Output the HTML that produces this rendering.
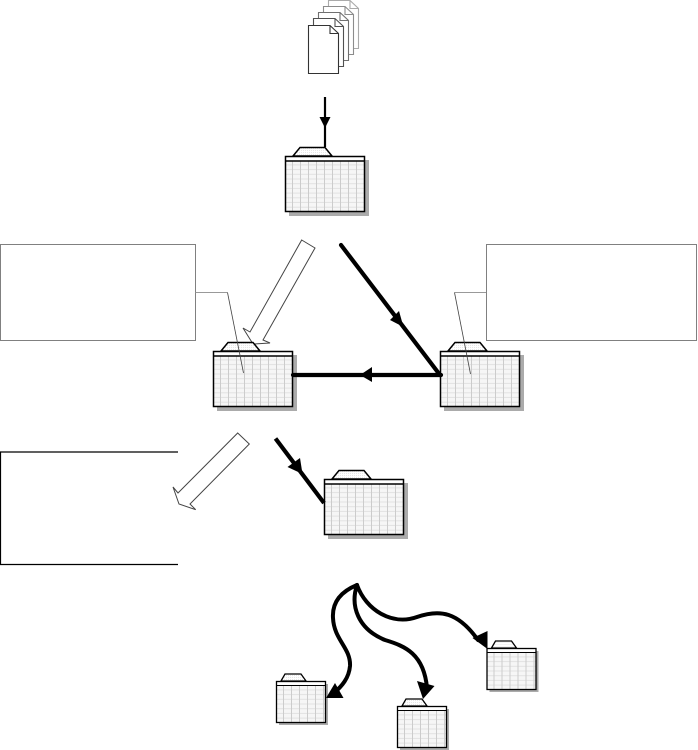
<!DOCTYPE html>
<html>
<head>
<meta charset="utf-8">
<title>Diagram</title>
<style>
html,body{margin:0;padding:0;background:#fff}
svg{display:block}
</style>
</head>
<body>
<svg width="698" height="750" viewBox="0 0 698 750" xmlns="http://www.w3.org/2000/svg">
<defs>
  <pattern id="grid" width="8" height="4.700" patternUnits="userSpaceOnUse">
    <rect width="8" height="4.700" fill="#f6f6f6"/>
    <rect x="0" y="3.700" width="8" height="1" fill="#e2e2e2"/>
    <rect x="7" y="0" width="1" height="4.700" fill="#cccccc"/>
  </pattern>
  <pattern id="dots" width="2" height="2" patternUnits="userSpaceOnUse">
    <rect width="2" height="2" fill="#fff"/>
    <rect width="1" height="1" fill="#e8e8e8"/>
  </pattern>
  <g id="big">
    <rect x="4" y="4" width="80" height="56" fill="#ababab"/>
    <path d="M8 0 L15 -8.500 L40 -8.500 L47 0 Z" fill="url(#dots)" stroke="#000" stroke-width="1.500"/>
    <rect x="0.500" y="0.500" width="79" height="55" fill="url(#grid)"/>
    <rect x="0.500" y="0.500" width="79" height="4.500" fill="#fff"/>
    <rect x="0.500" y="0.500" width="79" height="55" fill="none" stroke="#000" stroke-width="1.500"/>
    <line x1="0.500" y1="5" x2="79.500" y2="5" stroke="#000" stroke-width="1.400"/>
  </g>
  <g id="small">
    <rect x="3" y="3" width="49" height="41" fill="#ababab"/>
    <path d="M5 0 L9 -7 L25 -7 L30 0 Z" fill="url(#dots)" stroke="#000" stroke-width="1.300"/>
    <rect x="0.500" y="0.500" width="49" height="41" fill="url(#grid)"/>
    <rect x="0.500" y="0.500" width="49" height="4" fill="#fff"/>
    <rect x="0.500" y="0.500" width="49" height="41" fill="none" stroke="#000" stroke-width="1.300"/>
    <line x1="0.500" y1="4.500" x2="49.500" y2="4.500" stroke="#000" stroke-width="1.100"/>
  </g>
  <path id="page" d="M0.500 0.500 H22 L30.500 8.500 V48.500 H0.500 Z M22 0.500 V8.500 H30.500" fill="#fff" stroke-width="1.100"/>
</defs>

<!-- document stack -->
<use href="#page" x="328" y="0" stroke="#aaaaaa"/>
<use href="#page" x="323" y="6" stroke="#8c8c8c"/>
<use href="#page" x="318" y="12" stroke="#707070"/>
<use href="#page" x="313" y="18" stroke="#505050"/>
<use href="#page" x="308" y="25" stroke="#333"/>

<!-- hollow arrows (behind folders) -->
<path d="M301.700 240 L315 248 L263 340 L270 343 L253 344 L243 328 L250 332 Z" fill="#fff" stroke="#444" stroke-width="1"/>
<path d="M237.700 433 L249.300 444 L190 504 L195.700 509.700 L179 504 L173 487 L178 493 Z" fill="#fff" stroke="#444" stroke-width="1"/>

<!-- callout boxes -->
<g shape-rendering="crispEdges">
<rect x="0.500" y="244.500" width="195" height="96" fill="none" stroke="#000" stroke-width="1" stroke-dasharray="1 1"/>
<rect x="486.500" y="244.500" width="210" height="96" fill="none" stroke="#000" stroke-width="1" stroke-dasharray="1 1"/>
</g>
<path d="M178 452 H0.500 V564.500 H178" fill="none" stroke="#000" stroke-width="1.200"/>

<!-- folders -->
<use href="#big" x="285" y="156"/>
<use href="#big" x="213" y="351"/>
<use href="#big" x="440" y="351"/>
<use href="#big" x="324" y="479"/>
<use href="#small" x="276" y="681"/>
<use href="#small" x="397" y="706"/>
<use href="#small" x="486.500" y="648"/>

<!-- leaders -->
<path d="M195.500 292.500 H227.500" stroke="#999" stroke-width="1" fill="none"/>
<path d="M227.500 292.500 L243.500 373" stroke="#444" stroke-width="0.800" fill="none"/>
<path d="M486 292.500 H454.500" stroke="#999" stroke-width="1" fill="none"/>
<path d="M454.500 292.500 L470.500 374" stroke="#444" stroke-width="0.800" fill="none"/>

<!-- solid arrows -->
<g fill="none" stroke="#000" stroke-linecap="round">
  <line x1="325" y1="97" x2="325" y2="147" stroke-width="2.200" stroke-linecap="butt"/>
  <line x1="341" y1="245" x2="440" y2="375" stroke-width="4.200"/>
  <line x1="293" y1="375" x2="441" y2="375" stroke-width="4.200"/>
  <line x1="275.500" y1="438.500" x2="324" y2="503" stroke-width="4.200" stroke-linecap="butt"/>
  <path d="M357 585 C340 592 332 603 333 618 C334 640 351 648 350 666 C349 678 342 686 334 693" stroke-width="4"/>
  <path d="M357 585 C350 606 358 629 385 640 C405 646 424 654 427 688" stroke-width="4"/>
  <path d="M357 585 C366 610 392 626 417 617 C440 609 458 612 478 640" stroke-width="4"/>
</g>
<g fill="#000">
  <path d="M319.500 117 H330.500 L325 128 Z"/>
  <path d="M390 320 L399 311 L403.500 327 Z"/>
  <path d="M360 375 L372 367 V382 Z"/>
  <path d="M287.500 467 L300 458 L302.500 474 Z"/>
  <path d="M326 698 L335 683 L343.500 698 Z"/>
  <path d="M423 699 L417 681 L434.500 686 Z"/>
  <path d="M487.500 649 L472.500 638 L487.500 631 Z"/>
</g>
</svg>
</body>
</html>
